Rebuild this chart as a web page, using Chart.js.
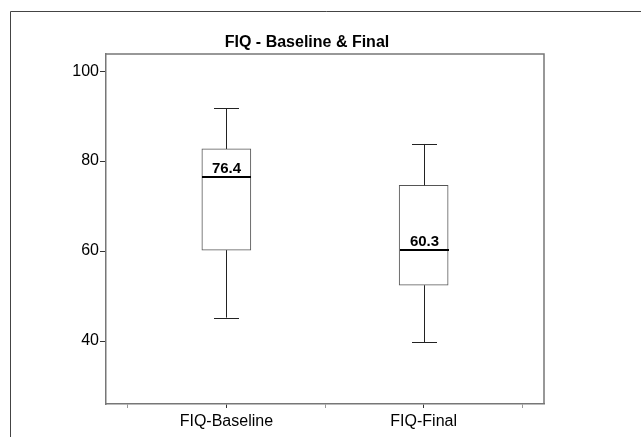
<!DOCTYPE html>
<html>
<head>
<meta charset="utf-8">
<script src="https://cdn.jsdelivr.net/npm/chart.js@4/dist/chart.umd.min.js"></script>
<style>
  html, body { margin: 0; padding: 0; background: #fff; }
  #c { display: block; }
</style>
</head>
<body>
<canvas id="c" width="641" height="437"></canvas>
<script>
// ---- data ----
const categories = ['FIQ-Baseline', 'FIQ-Final'];
const positions = [1, 2];
const mins    = [45.2, 39.7];
const q1s     = [60.2, 52.4];
const medians = [76.4, 60.3];
const q3s     = [82.7, 74.6];
const maxs    = [91.7, 83.8];
const yTicks  = [40, 60, 80, 100];
const xTickPositions = [0.5, 1, 1.5, 2, 2.5];
const titleText = 'FIQ - Baseline & Final';

const FONT = "'Liberation Sans', Arial, Helvetica, sans-serif";

const boxPlugin = {
  id: 'boxExtras',
  beforeDraw(chart) {
    const ctx = chart.ctx;
    ctx.save();
    ctx.fillStyle = '#fff';
    ctx.fillRect(0, 0, chart.width, chart.height);
    ctx.strokeStyle = '#444';
    ctx.lineWidth = 1;
    ctx.beginPath();
    ctx.moveTo(10.5, chart.height + 2);
    ctx.lineTo(10.5, 11.5);
    ctx.lineTo(chart.width + 2, 11.5);
    ctx.stroke();
    ctx.restore();
  },
  afterDatasetsDraw(chart) {
    const ctx = chart.ctx;
    const xs = chart.scales.x, ys = chart.scales.y;
    const boxW = 49, capW = 25;
    ctx.save();
    for (let i = 0; i < categories.length; i++) {
      const cx = Math.round(xs.getPixelForValue(positions[i])) + 0.5;
      const yMin = ys.getPixelForValue(mins[i]);
      const yQ1 = ys.getPixelForValue(q1s[i]);
      const yMed = ys.getPixelForValue(medians[i]);
      const yQ3 = ys.getPixelForValue(q3s[i]);
      const yMax = ys.getPixelForValue(maxs[i]);
      ctx.strokeStyle = '#222';
      ctx.lineWidth = 1;
      ctx.beginPath();
      ctx.moveTo(cx, yQ3); ctx.lineTo(cx, yMax);
      ctx.moveTo(cx, yQ1); ctx.lineTo(cx, yMin);
      ctx.moveTo(cx - capW / 2, Math.round(yMax) + 0.5); ctx.lineTo(cx + capW / 2, Math.round(yMax) + 0.5);
      ctx.moveTo(cx - capW / 2, Math.round(yMin) + 0.5); ctx.lineTo(cx + capW / 2, Math.round(yMin) + 0.5);
      ctx.stroke();
      // median
      ctx.strokeStyle = '#000';
      ctx.lineWidth = 2;
      ctx.beginPath();
      ctx.moveTo(cx - boxW / 2, Math.round(yMed));
      ctx.lineTo(cx + boxW / 2, Math.round(yMed));
      ctx.stroke();
      // label
      ctx.fillStyle = '#000';
      ctx.font = 'bold 15px ' + FONT;
      ctx.textAlign = 'center';
      ctx.textBaseline = 'alphabetic';
      ctx.fillText(medians[i].toFixed(1), cx, Math.round(yMed) - 4);
    }
    ctx.restore();
  },
  afterDraw(chart) {
    const ctx = chart.ctx;
    const a = chart.chartArea;
    ctx.save();
    ctx.strokeStyle = '#777';
    ctx.lineWidth = 1.5;
    ctx.beginPath();
    ctx.moveTo(a.left, a.top);
    ctx.lineTo(a.right, a.top);
    ctx.lineTo(a.right, a.bottom);
    ctx.stroke();
    ctx.fillStyle = '#000';
    ctx.font = 'bold 16px ' + FONT;
    ctx.textAlign = 'center';
    ctx.textBaseline = 'alphabetic';
    ctx.fillText(titleText, 307, 47);
    ctx.restore();
  }
};

new Chart(document.getElementById('c'), {
  type: 'bar',
  data: {
    datasets: [{
      data: positions.map((p, i) => ({ x: p, y: [q1s[i], q3s[i]] })),
      backgroundColor: '#fff',
      borderColor: '#555',
      borderWidth: 1,
      borderSkipped: false,
      barThickness: 49
    }]
  },
  options: {
    responsive: false,
    animation: false,
    devicePixelRatio: 1,
    layout: { padding: { top: 54, right: 97, left: 0, bottom: 0 } },
    plugins: { legend: { display: false }, tooltip: { enabled: false }, title: { display: false } },
    scales: {
      x: {
        type: 'linear',
        min: 0.39,
        max: 2.61,
        offset: false,
        afterBuildTicks(scale) { scale.ticks = xTickPositions.map(v => ({ value: v })); },
        afterFit(scale) { scale.height = 33; },
        grid: {
          offset: false,
          drawOnChartArea: false,
          drawTicks: true,
          tickLength: 4,
          color: (c) => (c.tick && Number.isInteger(c.tick.value)) ? '#333' : '#999',
          lineWidth: 1
        },
        border: { display: true, color: '#777', width: 1.5 },
        ticks: {
          autoSkip: false,
          maxRotation: 0,
          minRotation: 0,
          padding: 4,
          color: '#000',
          font: { family: FONT, size: 16 },
          callback: (v) => Number.isInteger(v) ? categories[positions.indexOf(v)] : ''
        }
      },
      y: {
        min: 26,
        max: 103.8,
        afterBuildTicks(scale) { scale.ticks = yTicks.map(v => ({ value: v })); },
        afterFit(scale) { scale.width = 106; },
        grid: {
          drawOnChartArea: false,
          drawTicks: true,
          tickLength: 6,
          color: '#333',
          lineWidth: 1
        },
        border: { display: true, color: '#777', width: 1.5 },
        ticks: {
          padding: 1,
          color: '#000',
          font: { family: FONT, size: 16 }
        }
      }
    }
  },
  plugins: [boxPlugin]
});
</script>
</body>
</html>
